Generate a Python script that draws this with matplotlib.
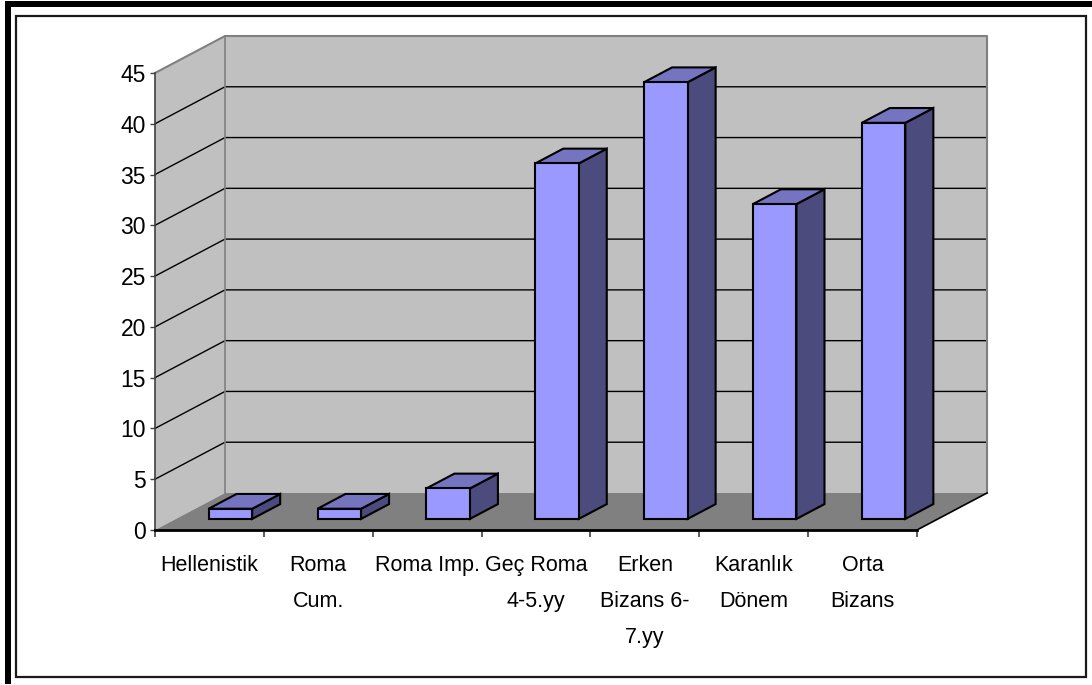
import matplotlib
matplotlib.use('Agg')
import matplotlib.pyplot as plt
from matplotlib.patches import Polygon, Rectangle
from matplotlib.lines import Line2D

# ---------------- data ----------------
categories = ["Hellenistik", "Roma\nCum.", "Roma Imp.", "Geç Roma\n4-5.yy",
              "Erken\nBizans 6-\n7.yy", "Karanlık\nDönem", "Orta\nBizans"]
values = [1, 1, 3, 35, 43, 31, 39]
yticks = [0, 5, 10, 15, 20, 25, 30, 35, 40, 45]

# ---------------- geometry (pixels) ----------------
W, H = 1092, 685
x0_px, x1_px = 155, 917          # front category axis
y0_px, ymax_px = 530, 73         # front value axis: 0 and 45
dx_px, dy_px = 70, 37            # 3D depth offset
n = len(categories)
ymax = yticks[-1]
cat_px = (x1_px - x0_px) / n
unit_px = (y0_px - ymax_px) / ymax
Dx = dx_px / cat_px
Dy = dy_px / unit_px

plt.rcParams['font.family'] = ['Liberation Sans', 'DejaVu Sans']

fig = plt.figure(figsize=(W / 100, H / 100), dpi=100)
fig.patch.set_facecolor('white')

ax_w_px = (n + Dx) * cat_px
ax_h_px = (ymax + Dy) * unit_px
ax = fig.add_axes([x0_px / W, 1 - y0_px / H, ax_w_px / W, ax_h_px / H])
ax.set_xlim(0, n + Dx)
ax.set_ylim(0, ymax + Dy)
ax.set_facecolor('none')

wall = '#C0C0C0'
floor = '#808080'
edge_gray = '#808080'

# walls & floor
ax.add_patch(Polygon([(0, 0), (Dx, Dy), (Dx, ymax + Dy), (0, ymax)],
                     closed=True, fc=wall, ec='none', zorder=1, clip_on=False))
ax.add_patch(Polygon([(Dx, Dy), (n + Dx, Dy), (n + Dx, ymax + Dy), (Dx, ymax + Dy)],
                     closed=True, fc=wall, ec='none', zorder=1, clip_on=False))
ax.add_patch(Polygon([(0, 0), (n, 0), (n + Dx, Dy), (Dx, Dy)],
                     closed=True, fc=floor, ec='none', zorder=1, clip_on=False))

# gridlines
for v in yticks[1:-1]:
    ax.add_line(Line2D([0, Dx, n + Dx], [v, v + Dy, v + Dy], color='black',
                       lw=1.0, zorder=2, clip_on=False))
# wall edges
ax.add_line(Line2D([0, Dx, n + Dx, n + Dx], [ymax, ymax + Dy, ymax + Dy, Dy],
                   color=edge_gray, lw=1.5, zorder=2, clip_on=False))
ax.add_line(Line2D([Dx, Dx], [Dy, ymax + Dy], color=edge_gray, lw=1.2,
                   zorder=2, clip_on=False))
# floor front edges
ax.add_line(Line2D([n, n + Dx], [0, Dy], color='black', lw=1.2, zorder=2,
                   clip_on=False))

# bars
bw = 0.4
d0, d1 = 0.3, 0.7
ddx, ddy = (d1 - d0) * Dx, (d1 - d0) * Dy
c_front, c_top, c_side = '#9999FF', '#7474C0', '#4B4B7E'
for i, v in enumerate(values):
    bx = i + (1 - bw) / 2 + d0 * Dx
    by = d0 * Dy
    kw = dict(closed=True, ec='black', lw=1.5, zorder=3, joinstyle='miter',
              clip_on=False)
    ax.add_patch(Polygon([(bx + bw, by), (bx + bw + ddx, by + ddy),
                          (bx + bw + ddx, by + v + ddy), (bx + bw, by + v)],
                         fc=c_side, **kw))
    ax.add_patch(Polygon([(bx, by + v), (bx + bw, by + v),
                          (bx + bw + ddx, by + v + ddy), (bx + ddx, by + v + ddy)],
                         fc=c_top, **kw))
    ax.add_patch(Polygon([(bx, by), (bx + bw, by), (bx + bw, by + v), (bx, by + v)],
                         fc=c_front, **kw))

# axes
for s in ['top', 'right']:
    ax.spines[s].set_visible(False)
ax.spines['left'].set_bounds(0, ymax)
ax.spines['left'].set_color('#404040')
ax.spines['left'].set_linewidth(1.2)
ax.spines['left'].set_zorder(4)
ax.spines['bottom'].set_bounds(0, n)
ax.spines['bottom'].set_color('black')
ax.spines['bottom'].set_linewidth(2)
ax.spines['bottom'].set_zorder(4)

ax.set_yticks(yticks)
ax.set_yticklabels([str(t) for t in yticks])
ax.tick_params(axis='y', direction='out', length=3.5, width=1, color='#404040',
               pad=3, labelsize=16.5)

ax.set_xticks(range(n + 1))
ax.set_xticklabels([''] * (n + 1))
ax.tick_params(axis='x', which='major', direction='out', length=5, width=1.2,
               color='#404040')
ax.set_xticks([i + 0.5 for i in range(n)], minor=True)
ax.set_xticklabels(categories, minor=True)
ax.tick_params(axis='x', which='minor', length=0, pad=18, labelsize=15.5)
for lab in ax.get_xticklabels(minor=True):
    lab.set_linespacing(1.93)
    lab.set_ha('center')

# frame
fig.add_artist(Rectangle((16 / W, 1 - 677 / H), (1086 - 16) / W, (677 - 16) / H,
                         transform=fig.transFigure, fill=False, ec='#1a1a1a', lw=1.6))
fig.add_artist(Rectangle((5 / W, 1 - 7 / H), (W - 5) / W, 6 / H,
                         transform=fig.transFigure, fc='black', ec='none'))
fig.add_artist(Rectangle((5 / W, 1 - 684 / H), 6 / W, 683 / H,
                         transform=fig.transFigure, fc='black', ec='none'))

fig.savefig('out.png', dpi=100)
